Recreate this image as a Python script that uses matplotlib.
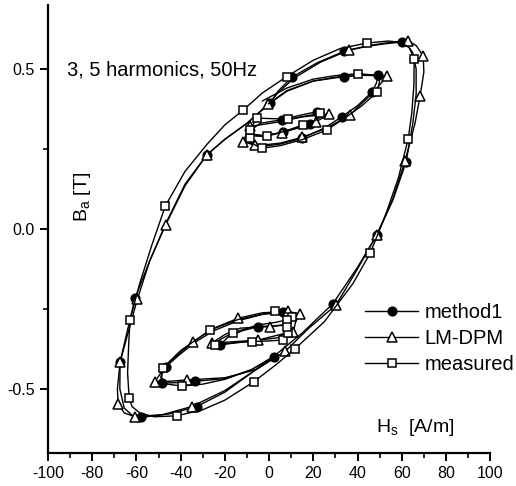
import numpy as np
import matplotlib
matplotlib.use("Agg")
import matplotlib.pyplot as plt
from matplotlib.ticker import MultipleLocator

plt.rcParams['font.family'] = ['Liberation Sans', 'DejaVu Sans']
plt.rcParams['axes.unicode_minus'] = False

# (H [A/m], B [T], marker shown?)
method1_main = [
    (60.0, 0.584, 1), (52, 0.578, 0), (44, 0.570, 0), (34.0, 0.555, 1), (22, 0.52, 0),
    (10.3, 0.474, 1), (4, 0.43, 0), (0.5, 0.393, 1), (-10, 0.33, 0), (-20, 0.28, 0),
    (-28.2, 0.231, 1), (-38, 0.14, 0), (-46.5, 0.02, 0), (-54, -0.10, 0), (-60.6, -0.216, 1),
    (-64.5, -0.33, 0), (-67.4, -0.416, 1), (-67.5, -0.50, 0), (-65.5, -0.56, 0), (-61.5, -0.585, 0),
    (-57.9, -0.589, 1), (-45, -0.578, 0), (-32.7, -0.555, 1), (-20, -0.51, 0), (-9, -0.455, 0),
    (2.0, -0.399, 1), (15, -0.325, 0), (28.8, -0.234, 1), (40, -0.12, 0), (48.7, -0.019, 1),
    (56, 0.09, 0), (62.0, 0.21, 1), (65, 0.33, 0), (66.5, 0.42, 0), (66.5, 0.50, 0),
    (65, 0.55, 0), (62.5, 0.575, 0), (60.0, 0.584, 0),
]
method1_top = [
    (0.5, 0.393, 0), (8, 0.43, 0), (20, 0.462, 0), (34.0, 0.476, 1), (42, 0.481, 0),
    (49.3, 0.481, 1), (48.5, 0.455, 0), (46.6, 0.428, 1), (40, 0.385, 0), (33.0, 0.351, 1),
    (25, 0.315, 0), (14.8, 0.283, 1), (5, 0.265, 0), (-3, 0.258, 0), (-8, 0.265, 0),
    (-9.5, 0.285, 0), (-8, 0.31, 0), (-4, 0.33, 0), (5.7, 0.341, 1), (14, 0.355, 0),
    (21.5, 0.366, 1), (25, 0.364, 0), (22, 0.345, 0), (18.6, 0.328, 1), (12, 0.313, 0),
    (6.5, 0.302, 1), (-2, 0.292, 0), (-7, 0.295, 0),
]
method1_bottom = [
    (2.0, -0.399, 0), (-8, -0.44, 0), (-20, -0.468, 0), (-33.5, -0.476, 1), (-41, -0.48, 0),
    (-48.6, -0.482, 1), (-48.5, -0.455, 0), (-46.6, -0.43, 1), (-40, -0.39, 0), (-33, -0.352, 0),
    (-25, -0.318, 0), (-14, -0.287, 0), (-3, -0.267, 0), (6.5, -0.261, 1), (11, -0.266, 0),
    (11.5, -0.28, 0), (9, -0.298, 0), (2, -0.303, 0), (-4.8, -0.305, 1), (-12, -0.318, 0),
    (-18, -0.335, 0), (-22.2, -0.362, 1), (-15, -0.356, 0), (-5, -0.348, 0), (4, -0.34, 0),
    (8, -0.32, 0),
]

lmdpm_main = [
    (62.9, 0.5875, 1), (54, 0.582, 0), (45, 0.573, 0), (36.2, 0.559, 1), (23, 0.52, 0),
    (11, 0.47, 0), (4, 0.425, 0), (-0.3, 0.391, 1), (-10, 0.33, 0), (-20, 0.28, 0),
    (-28.2, 0.231, 1), (-38, 0.135, 0), (-46.8, 0.0125, 1), (-54, -0.10, 0), (-59.6, -0.22, 1),
    (-64, -0.33, 0), (-67.4, -0.416, 1), (-68.6, -0.50, 0), (-68.3, -0.547, 1), (-65.5, -0.575, 0),
    (-60.6, -0.587, 1), (-48, -0.58, 0), (-35.0, -0.555, 1), (-20, -0.505, 0), (-6, -0.44, 0),
    (7.2, -0.383, 1), (18, -0.31, 0), (30.3, -0.2375, 1), (40, -0.125, 0), (48.7, -0.019, 1),
    (56, 0.095, 0), (61.5, 0.2125, 1), (66, 0.33, 0), (68.3, 0.416, 1), (70, 0.49, 0),
    (69.7, 0.541, 1), (66.5, 0.573, 0), (62.9, 0.5875, 0),
]
lmdpm_top = [
    (-0.3, 0.391, 0), (8, 0.432, 0), (20, 0.462, 0), (30, 0.474, 0), (42, 0.48, 0),
    (53.4, 0.478, 1), (50, 0.45, 0), (47, 0.425, 0), (40, 0.38, 0), (36.7, 0.356, 1),
    (26, 0.315, 0), (14.8, 0.286, 1), (5, 0.268, 0), (-3, 0.262, 0), (-6.3, 0.262, 1),
    (-11.8, 0.272, 1), (-10, 0.30, 0), (-8.6, 0.32, 1), (5, 0.335, 0), (15, 0.35, 0),
    (27.3, 0.359, 1), (21.3, 0.335, 1), (12, 0.315, 0), (5.7, 0.301, 1), (-3, 0.29, 0),
    (-8, 0.295, 0),
]
lmdpm_bottom = [
    (4, -0.395, 0), (-6, -0.44, 0), (-20, -0.465, 0), (-37.3, -0.472, 1), (-45, -0.476, 0),
    (-51.6, -0.477, 1), (-49, -0.45, 0), (-45, -0.415, 0), (-34.2, -0.352, 1), (-25, -0.31, 0),
    (-13.9, -0.279, 1), (-3, -0.262, 0), (8.7, -0.258, 1), (14.0, -0.266, 1), (12, -0.29, 0),
    (11.0, -0.321, 1), (5, -0.33, 0), (-4.8, -0.347, 1), (-15, -0.352, 0), (-26.0, -0.357, 1),
    (-20, -0.33, 0), (-13, -0.31, 0), (0.5, -0.305, 1), (8, -0.30, 0),
]

measured_main = [
    (44.3, 0.581, 1), (54, 0.587, 0), (60, 0.582, 0), (63.5, 0.565, 0), (65.6, 0.531, 1),
    (65.5, 0.45, 0), (64.5, 0.36, 0), (62.9, 0.281, 1), (58.5, 0.16, 0), (52.5, 0.04, 0),
    (45.7, -0.076, 1), (38, -0.17, 0), (25, -0.29, 0), (11.8, -0.374, 1), (3, -0.425, 0),
    (-7.0, -0.478, 1), (-20, -0.535, 0), (-30, -0.565, 0), (-41.8, -0.584, 1), (-52, -0.587, 0),
    (-58.5, -0.575, 0), (-62, -0.555, 0), (-63.3, -0.528, 1), (-64, -0.45, 0), (-63.5, -0.36, 0),
    (-62.9, -0.284, 1), (-58.5, -0.17, 0), (-53, -0.05, 0), (-46.9, 0.072, 1), (-38, 0.18, 0),
    (-28, 0.265, 0), (-20, 0.325, 0), (-11.6, 0.372, 1), (-3, 0.425, 0), (8.0, 0.476, 1),
    (20, 0.527, 0), (32, 0.563, 0), (44.3, 0.581, 0),
]
measured_top = [
    (-3, 0.40, 0), (8, 0.44, 0), (20, 0.468, 0), (30, 0.479, 0), (40.3, 0.485, 1),
    (47, 0.481, 0), (50, 0.462, 0), (48.9, 0.428, 1), (42, 0.385, 0), (35, 0.35, 0),
    (26.1, 0.309, 1), (15, 0.279, 0), (5, 0.26, 0), (-3.3, 0.252, 1), (-8.6, 0.27, 0),
    (-8.6, 0.284, 1), (-8.6, 0.309, 1), (-5.6, 0.346, 1), (8.7, 0.343, 1), (16, 0.352, 0),
    (23.1, 0.361, 1), (25, 0.357, 0), (20, 0.335, 0), (15.4, 0.325, 1), (7, 0.305, 0),
    (-1.1, 0.289, 1), (-6, 0.29, 0),
]
measured_bottom = [
    (2, -0.40, 0), (-8, -0.44, 0), (-20, -0.47, 0), (-30, -0.485, 0), (-39.5, -0.491, 1),
    (-46, -0.485, 0), (-49, -0.465, 0), (-48.1, -0.435, 1), (-40, -0.38, 0), (-26.7, -0.316, 1),
    (-14, -0.283, 0), (2.7, -0.258, 1), (10, -0.265, 0), (10.3, -0.274, 1), (8.0, -0.284, 1),
    (3, -0.292, 0), (-5, -0.30, 0), (-16.1, -0.324, 1), (-22, -0.345, 0), (-24.4, -0.3625, 1),
    (-15, -0.355, 0), (-7.9, -0.352, 1), (0, -0.35, 0), (6.5, -0.347, 1), (8.7, -0.326, 1),
    (8, -0.305, 1),
]

series = [
    ("method1", [method1_main, method1_top, method1_bottom],
     dict(marker='o', markersize=6.3, markerfacecolor='k', markeredgecolor='k')),
    ("LM-DPM", [lmdpm_main, lmdpm_top, lmdpm_bottom],
     dict(marker='^', markersize=7.3, markerfacecolor='white', markeredgecolor='k', markeredgewidth=1.1)),
    ("measured", [measured_main, measured_top, measured_bottom],
     dict(marker='s', markersize=6.3, markerfacecolor='white', markeredgecolor='k', markeredgewidth=1.1)),
]

fig = plt.figure(figsize=(5.16, 4.86), dpi=100)
ax = fig.add_axes([0.093, 0.068, 0.857, 0.922])

for label, segments, style in series:
    for i, seg in enumerate(segments):
        h = [p[0] for p in seg]
        b = [p[1] for p in seg]
        idx = [j for j, p in enumerate(seg) if p[2]]
        ax.plot(h, b, color='k', linewidth=1.0, markevery=idx,
                label=label if i == 0 else None, **style)

ax.set_xlim(-100, 100)
ax.set_ylim(-0.7, 0.7)
ax.spines['top'].set_visible(False)
ax.spines['right'].set_visible(False)
ax.spines['left'].set_linewidth(1.6)
ax.spines['bottom'].set_linewidth(1.6)
ax.xaxis.set_major_locator(MultipleLocator(20))
ax.xaxis.set_minor_locator(MultipleLocator(10))
ax.yaxis.set_major_locator(MultipleLocator(0.5))
ax.yaxis.set_minor_locator(MultipleLocator(0.25))
ax.yaxis.set_major_formatter(matplotlib.ticker.FormatStrFormatter('%.1f'))
ax.tick_params(which='major', direction='out', length=6, width=1.4, labelsize=11.5)
ax.tick_params(which='minor', direction='out', length=3.5, width=1.2)

ax.text(-91.5, 0.497, "3, 5 harmonics, 50Hz", fontsize=14.5, va='center', ha='left')
ax.text(-84.5, 0.1, r"B$_\mathregular{a}$ [T]", fontsize=14, rotation=90, va='center', ha='center')
ax.text(66, -0.62, r"H$_\mathregular{s}$  [A/m]", fontsize=14, va='center', ha='center')

ax.legend(loc='upper left', bbox_to_anchor=(0.717, 0.335), frameon=False, fontsize=14.5,
          handlelength=2.65, handletextpad=0.3, labelspacing=0.35, borderpad=0, borderaxespad=0,
          numpoints=1)

fig.savefig("out.png", dpi=100)
